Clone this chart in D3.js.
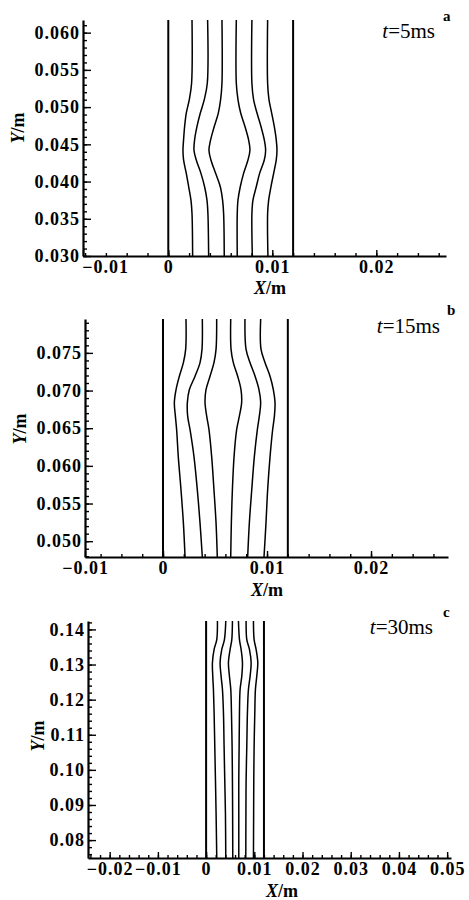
<!DOCTYPE html>
<html>
<head>
<meta charset="utf-8">
<script src="https://cdn.jsdelivr.net/npm/d3@7"></script>
<style>
body { margin: 0; background: #fff; }
svg { display: block; }
.axis .domain { stroke: #000; stroke-width: 2.2px; }
.axis line { stroke: #000; stroke-width: 1.4px; }
.axis text {
    font-family: "Liberation Serif", serif;
    font-weight: bold;
    font-size: 18px;
    letter-spacing: 1px;
    fill: #000;
}
.label { font-family: "Liberation Serif", serif; font-size: 18px; font-weight: bold; fill: #000; }
.note { font-family: "Liberation Serif", serif; font-size: 21px; fill: #000; }
.tag { font-family: "Liberation Serif", serif; font-size: 15px; font-weight: bold; fill: #000; }
.contour { fill: none; stroke: #000; stroke-width: 1.5px; }
.edge { stroke: #000; stroke-width: 2px; }
</style>
</head>
<body>
<svg width="469" height="900"></svg>
<script>
// ---- panel a : t = 5 ms ----
var xDomainA = [-0.0082, 0.0267];
var yDomainA = [0.0300, 0.0617];
var xTicksA = [-0.01, 0, 0.01, 0.02];
var yTicksA = [0.030, 0.035, 0.040, 0.045, 0.050, 0.055, 0.060];
var edgesA = [0, 0.012];
var levelsA = [0.0300, 0.0357, 0.0375, 0.0393, 0.0411, 0.0429, 0.0442, 0.0456, 0.0474, 0.0492, 0.0510, 0.0532, 0.0617];
var linesA = [
    [0.00234, 0.00228, 0.00218, 0.00196, 0.00173, 0.00147, 0.00141, 0.00147, 0.00157, 0.00173, 0.00202, 0.00224, 0.00228],
    [0.00388, 0.00381, 0.00372, 0.00349, 0.00314, 0.00269, 0.00247, 0.00253, 0.00276, 0.00308, 0.00346, 0.00375, 0.00378],
    [0.00538, 0.00532, 0.00522, 0.00500, 0.00455, 0.00410, 0.00391, 0.00407, 0.00442, 0.00481, 0.00503, 0.00516, 0.00516],
    [0.00663, 0.00663, 0.00670, 0.00692, 0.00724, 0.00766, 0.00785, 0.00772, 0.00737, 0.00696, 0.00670, 0.00654, 0.00654],
    [0.00808, 0.00804, 0.00814, 0.00846, 0.00878, 0.00923, 0.00936, 0.00923, 0.00891, 0.00853, 0.00820, 0.00804, 0.00804],
    [0.00958, 0.00955, 0.00965, 0.00987, 0.01013, 0.01038, 0.01045, 0.01038, 0.01019, 0.00994, 0.00968, 0.00955, 0.00955]
];

// ---- panel b : t = 15 ms ----
var xDomainB = [-0.0075, 0.0274];
var yDomainB = [0.0479, 0.0795];
var xTicksB = [-0.01, 0, 0.01, 0.02];
var yTicksB = [0.050, 0.055, 0.060, 0.065, 0.070, 0.075];
var edgesB = [0, 0.012];
var levelsB = [0.0479, 0.0524, 0.0568, 0.0612, 0.0648, 0.0666, 0.0684, 0.0701, 0.0719, 0.0737, 0.0755, 0.0795];
var linesB = [
    [0.00212, 0.00196, 0.00173, 0.00147, 0.00131, 0.00119, 0.00109, 0.00125, 0.00157, 0.00196, 0.00218, 0.00221],
    [0.00378, 0.00356, 0.00330, 0.00298, 0.00260, 0.00237, 0.00234, 0.00253, 0.00308, 0.00356, 0.00375, 0.00378],
    [0.00522, 0.00510, 0.00490, 0.00468, 0.00442, 0.00420, 0.00404, 0.00413, 0.00452, 0.00490, 0.00510, 0.00516],
    [0.00651, 0.00657, 0.00667, 0.00683, 0.00708, 0.00734, 0.00756, 0.00750, 0.00718, 0.00676, 0.00654, 0.00651],
    [0.00814, 0.00830, 0.00853, 0.00878, 0.00907, 0.00926, 0.00939, 0.00923, 0.00885, 0.00837, 0.00798, 0.00788],
    [0.00971, 0.00990, 0.01006, 0.01029, 0.01054, 0.01071, 0.01077, 0.01061, 0.01029, 0.00981, 0.00942, 0.00939]
];

// ---- panel c : t = 30 ms ----
var xDomainC = [-0.0245, 0.0508];
var yDomainC = [0.0749, 0.1424];
var xTicksC = [-0.02, -0.01, 0, 0.01, 0.02, 0.03, 0.04, 0.05];
var yTicksC = [0.08, 0.09, 0.10, 0.11, 0.12, 0.13, 0.14];
var edgesC = [0, 0.012];
var levelsC = [0.0749, 0.0876, 0.0971, 0.1067, 0.1162, 0.1229, 0.1267, 0.1305, 0.1343, 0.1371, 0.1424];
var linesC = [
    [0.00221, 0.00207, 0.00194, 0.00180, 0.00166, 0.00152, 0.00138, 0.00131, 0.00166, 0.00221, 0.00235],
    [0.00408, 0.00401, 0.00387, 0.00373, 0.00360, 0.00339, 0.00311, 0.00290, 0.00325, 0.00380, 0.00408],
    [0.00553, 0.00550, 0.00546, 0.00539, 0.00526, 0.00512, 0.00484, 0.00463, 0.00498, 0.00533, 0.00546],
    [0.00678, 0.00678, 0.00678, 0.00685, 0.00692, 0.00705, 0.00740, 0.00754, 0.00726, 0.00692, 0.00671],
    [0.00823, 0.00826, 0.00830, 0.00844, 0.00857, 0.00878, 0.00913, 0.00934, 0.00899, 0.00844, 0.00830],
    [0.00982, 0.00986, 0.00989, 0.00996, 0.01010, 0.01023, 0.01051, 0.01072, 0.01037, 0.00996, 0.00982]
];

var timeLabels = ['5ms', '15ms', '30ms'];
var panelTags = ['a', 'b', 'c'];

let panels = [
    {xDomain: xDomainA, yDomain: yDomainA, xTicks: xTicksA, yTicks: yTicksA, edges: edgesA, levels: levelsA, lines: linesA,
     box: {left: 83, right: 446, top: 20, bottom: 256}, yFmt: '.3f', xMinor: 0.002, yMinor: 0.001, edgeShift: 22,
     xTitle: [270, 294], yTitle: [18, 128], note: [435, 38], tag: [443, 21]},
    {xDomain: xDomainB, yDomain: yDomainB, xTicks: xTicksB, yTicks: yTicksB, edges: edgesB, levels: levelsB, lines: linesB,
     box: {left: 85, right: 448, top: 319, bottom: 557}, yFmt: '.3f', xMinor: 0.002, yMinor: 0.001, edgeShift: 0,
     xTitle: [267, 596], yTitle: [20, 429], note: [440, 333], tag: [447, 315]},
    {xDomain: xDomainC, yDomain: yDomainC, xTicks: xTicksC, yTicks: yTicksC, edges: edgesC, levels: levelsC, lines: linesC,
     box: {left: 88, right: 451, top: 621, bottom: 858}, yFmt: '.2f', xMinor: 0.002, yMinor: 0.002, edgeShift: 0,
     xTitle: [282, 897], yTitle: [38, 736], note: [433, 634], tag: [443, 617]}
];

let minorValues = (domain, step) => {
    return d3.range(Math.ceil(domain[0] / step - 1e-9), Math.floor(domain[1] / step + 1e-9) + 1)
        .map(i => +(i * step).toFixed(6));
};

let drawPanel = (svg, p, i) => {
    var x = d3.scaleLinear().domain(p.xDomain).range([p.box.left, p.box.right]).clamp(true);
    var y = d3.scaleLinear().domain(p.yDomain).range([p.box.bottom, p.box.top]);

    var line = d3.line()
        .x(d => x(d[0]))
        .y(d => y(d[1]))
        .curve(d3.curveCatmullRom.alpha(0.5));

    svg.append('g')
        .selectAll('path')
        .data(p.lines)
        .enter()
        .append('path')
            .attr('class', 'contour')
            .attr('d', xs => line(xs.map((v, k) => [v, p.levels[k]])));

    svg.append('g')
        .selectAll('line')
        .data(p.edges)
        .enter()
        .append('line')
            .attr('class', 'edge')
            .attr('x1', d => x(d))
            .attr('x2', d => x(d))
            .attr('y1', y(p.levels[0]))
            .attr('y2', y(p.levels[p.levels.length - 1]));

    // minor ticks first, pointing inward
    svg.append('g')
        .attr('class', 'axis')
        .attr('transform', 'translate(' + p.box.left + ',0)')
        .call(d3.axisLeft(y).tickValues(minorValues(p.yDomain, p.yMinor)).tickSize(-4).tickFormat(''))
        .select('.domain').remove();

    svg.append('g')
        .attr('class', 'axis')
        .attr('transform', 'translate(0,' + p.box.bottom + ')')
        .call(d3.axisBottom(x).tickValues(minorValues(p.xDomain, p.xMinor)).tickSize(-3).tickFormat(''))
        .select('.domain').remove();

    svg.append('g')
        .attr('class', 'axis')
        .attr('transform', 'translate(' + p.box.left + ',0)')
        .call(d3.axisLeft(y).tickValues(p.yTicks).tickSizeInner(-8).tickSizeOuter(0)
            .tickPadding(3).tickFormat(d3.format(p.yFmt)));

    var xa = svg.append('g')
        .attr('class', 'axis')
        .attr('transform', 'translate(0,' + p.box.bottom + ')')
        .call(d3.axisBottom(x).tickValues(p.xTicks).tickSizeInner(-6).tickSizeOuter(0)
            .tickPadding(4).tickFormat(d => d === 0 ? '0' : d3.format('.2f')(d)));

    xa.selectAll('.tick')
        .filter(d => d < p.xDomain[0])
        .select('text')
        .attr('dx', p.edgeShift);

    var xt = svg.append('text')
        .attr('class', 'label')
        .attr('text-anchor', 'middle')
        .attr('x', p.xTitle[0])
        .attr('y', p.xTitle[1]);
    xt.append('tspan').attr('font-style', 'italic').text('X');
    xt.append('tspan').text('/m');

    var yt = svg.append('text')
        .attr('class', 'label')
        .attr('text-anchor', 'middle')
        .attr('transform', 'translate(' + (p.yTitle[0] + 6) + ',' + p.yTitle[1] + ') rotate(-90)');
    yt.append('tspan').attr('font-style', 'italic').text('Y');
    yt.append('tspan').text('/m');

    var nt = svg.append('text')
        .attr('class', 'note')
        .attr('text-anchor', 'end')
        .attr('x', p.note[0])
        .attr('y', p.note[1]);
    nt.append('tspan').attr('font-style', 'italic').text('t');
    nt.append('tspan').text('=' + timeLabels[i]);

    svg.append('text')
        .attr('class', 'tag')
        .attr('x', p.tag[0])
        .attr('y', p.tag[1])
        .text(panelTags[i]);
};

let init = () => {
    var svg = d3.select('svg');
    panels.forEach((p, i) => drawPanel(svg, p, i));
};

init();
</script>
</body>
</html>
